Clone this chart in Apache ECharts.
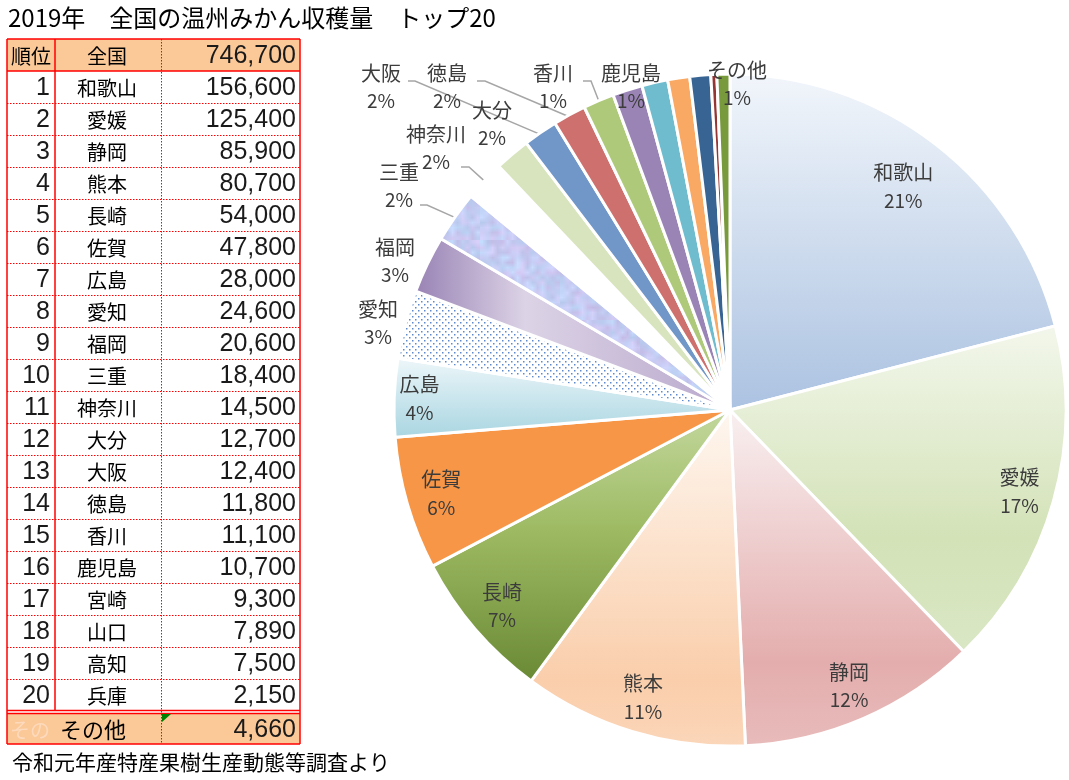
<!DOCTYPE html>
<html>
<head>
<meta charset="utf-8">
<script src="https://cdn.jsdelivr.net/npm/echarts@6/dist/echarts.min.js"></script>
<style>
html,body{margin:0;padding:0;background:#fff;}
#chart{width:1069px;height:780px;}
</style>
</head>
<body>
<div id="chart"></div>
<script>
// ---------------- data ----------------
const titleText = '2019年　全国の温州みかん収穫量　トップ20';
const sourceText = '令和元年産特産果樹生産動態等調査より';
const rankHeader = '順位';
const nationalName = '全国';
const nationalTotal = 746700;
const ranks = [1, 2, 3, 4, 5, 6, 7, 8, 9, 10, 11, 12, 13, 14, 15, 16, 17, 18, 19, 20];
const prefectures = ['和歌山', '愛媛', '静岡', '熊本', '長崎', '佐賀', '広島', '愛知', '福岡', '三重',
  '神奈川', '大分', '大阪', '徳島', '香川', '鹿児島', '宮崎', '山口', '高知', '兵庫'];
const harvest = [156600, 125400, 85900, 80700, 54000, 47800, 28000, 24600, 20600, 18400,
  14500, 12700, 12400, 11800, 11100, 10700, 9300, 7890, 7500, 2150];
const otherName = 'その他';
const otherHarvest = 4660;

const pieNames = prefectures.concat([otherName]);
const pieValues = harvest.concat([otherHarvest]);
const pieTotal = pieValues.reduce((a, b) => a + b, 0);

// ---------------- styles / layout ----------------
const CX = 730, CY = 410, R = 336;
const CJK = '"Noto Sans CJK JP", "Noto Sans", sans-serif';
const NUM = '"Liberation Sans", Arial, sans-serif';

function lin(x2, y2, stops) {
  return { type: 'linear', x: 0, y: 0, x2: x2, y2: y2,
    colorStops: stops.map(s => ({ offset: s[0], color: s[1] })) };
}
function dotPattern() {
  const c = document.createElement('canvas');
  c.width = 6; c.height = 6;
  const g = c.getContext('2d');
  g.fillStyle = '#ffffff'; g.fillRect(0, 0, 6, 6);
  g.fillStyle = '#5E8ACB';
  g.fillRect(1, 1, 1.5, 1.5);
  g.fillRect(4, 4, 1.5, 1.5);
  return { image: c, repeat: 'repeat' };
}
function hash(x, y) {
  const s = Math.sin(x * 127.1 + y * 311.7) * 43758.5453;
  return s - Math.floor(s);
}
function texturePattern() {
  const n = 16, big = 80;
  const small = document.createElement('canvas');
  small.width = n; small.height = n;
  const g = small.getContext('2d');
  const A = [190, 214, 248], B = [206, 196, 240];
  for (let y = 0; y < n; y++) for (let x = 0; x < n; x++) {
    const t = hash(x, y), b = hash(x + 37, y + 91) * 22 - 11;
    const c = A.map((v, k) => Math.max(0, Math.min(255, Math.round(v + (B[k] - v) * t + b))));
    g.fillStyle = 'rgb(' + c.join(',') + ')';
    g.fillRect(x, y, 1, 1);
  }
  const c2 = document.createElement('canvas');
  c2.width = big; c2.height = big;
  const g2 = c2.getContext('2d');
  g2.imageSmoothingEnabled = true;
  g2.drawImage(small, 0, 0, big, big);
  return { image: c2, repeat: 'repeat' };
}

const sliceFill = {
  '和歌山': lin(0, 1, [[0, '#F2F6FB'], [1, '#ABC2E1']]),
  '愛媛': lin(0, 1, [[0, '#F3F7EC'], [0.65, '#D3E2B7'], [1, '#DAE7C5']]),
  '静岡': lin(0, 1, [[0, '#F9F0F1'], [0.75, '#E4ADAD'], [1, '#E8BBBB']]),
  '熊本': lin(0, 1, [[0, '#FEF7F0'], [0.8, '#FACEAB'], [1, '#FBD6B9']]),
  '長崎': lin(0, 1, [[0, '#C3D89E'], [0.45, '#9DBA62'], [1, '#6A8935']]),
  '佐賀': '#F79646',
  '広島': lin(0, 1, [[0, '#EEF7FA'], [1, '#A8D5E1']]),
  '愛知': dotPattern(),
  '福岡': lin(1, 0, [[0, '#9882B4'], [0.35, '#DCD3E6'], [1, '#B8A8CC']]),
  '三重': texturePattern(),
  '神奈川': '#FFFFFF',
  '大分': '#D7E4BD',
  '大阪': '#7196C8',
  '徳島': '#CD706E',
  '香川': '#AFC97B',
  '鹿児島': '#9A84B6',
  '宮崎': '#6FBCCF',
  '山口': '#F9A964',
  '高知': '#386493',
  '兵庫': '#963634',
  'その他': '#789A3C'
};
const hiddenLabels = ['宮崎', '山口', '高知', '兵庫'];
const outsideLabelAt = {
  '愛知': [378, 323], '福岡': [395, 261], '三重': [399, 186], '神奈川': [436, 148],
  '大分': [492, 124], '大阪': [381, 87], '徳島': [447, 87], '香川': [553, 87],
  '鹿児島': [631, 87], 'その他': [737, 84]
};
const leaderBends = {
  '三重': [[427, 205], [420, 205]],
  '神奈川': [[469, 167], [461, 167]],
  '大阪': [[415, 81], [408, 81]],
  '徳島': [[485, 81], [477, 81]],
  '香川': [[591, 81], [583, 81]]
};
const insideRadius = { '和歌山': 0.842, '広島': 0.925 };

const midAngles = [];
(function () {
  let cum = 0;
  pieValues.forEach(v => { midAngles.push((cum + v / 2) / pieTotal * 360); cum += v; });
})();
function polar(deg, r) {
  const a = deg * Math.PI / 180;
  return [CX + r * Math.sin(a), CY - r * Math.cos(a)];
}

// ---------------- table graphics ----------------
const X0 = 7, X1 = 55, X2 = 161, X3 = 300;
const Y0 = 39, HB = 71, RH = 32;
const rowsEnd = HB + RH * ranks.length; // 711
const OY0 = rowsEnd + 3, OY1 = OY0 + 30;
const RED = '#FF0000', BG = '#FBC898';

const graphics = [];
function line(x1, y1, x2, y2, dashed, w) {
  graphics.push({ type: 'line', silent: true,
    shape: { x1: x1, y1: y1, x2: x2, y2: y2 },
    style: { stroke: RED, lineWidth: w || (dashed ? 1 : 1.5), lineDash: dashed ? [1.5, 1.5] : null } });
}
function text(t, x, y, font, align, fill) {
  graphics.push({ type: 'text', silent: true,
    style: { text: t, x: x, y: y, font: font, fill: fill || '#000',
      align: align, textAlign: align, verticalAlign: 'middle', textVerticalAlign: 'middle' } });
}
graphics.push({ type: 'rect', silent: true, shape: { x: X0, y: Y0, width: X3 - X0, height: HB - Y0 }, style: { fill: BG } });
graphics.push({ type: 'rect', silent: true, shape: { x: X0, y: OY0, width: X3 - X0, height: OY1 - OY0 }, style: { fill: BG } });
for (let i = 1; i < ranks.length; i++) line(X0, HB + RH * i + 0.5, X3, HB + RH * i + 0.5, true);
line(X2 + 0.5, Y0, X2 + 0.5, OY1, true);
line(X1, Y0, X1, rowsEnd, false);
line(X0, Y0, X0, OY1, false);
line(X3, Y0, X3, OY1, false);
line(X0, Y0, X3, Y0, false);
line(X0, HB, X3, HB, false);
line(X0, rowsEnd - 0.5, X3, rowsEnd - 0.5, false);
line(X0, OY0 - 0.5, X3, OY0 - 0.5, false);
line(X0, OY1, X3, OY1, false);

const fmt = v => v.toLocaleString('en-US');
const nameCX = 107, rankRX = 50, valRX = 296;
const numFont = '25px ' + NUM, numColor = '#1a1a1a';
text(rankHeader, 31, (Y0 + HB) / 2 + 1, '20px ' + CJK, 'center');
text(nationalName, nameCX, (Y0 + HB) / 2 + 1, '20px ' + CJK, 'center');
text(fmt(nationalTotal), valRX, (Y0 + HB) / 2 + 1, numFont, 'right', numColor);
ranks.forEach((r, i) => {
  const cy = HB + RH * i + RH / 2 + 1;
  text(String(r), rankRX, cy, numFont, 'right', numColor);
  text(prefectures[i], nameCX, cy, '20px ' + CJK, 'center');
  text(fmt(harvest[i]), valRX, cy, numFont, 'right', numColor);
});
const ocy = (OY0 + OY1) / 2 + 1;
text(otherName.slice(0, 2), 10, ocy, '20px ' + CJK, 'left', '#FDDABD');
text(otherName, 93, ocy, '22px ' + CJK, 'center');
text(fmt(otherHarvest), valRX, ocy, numFont, 'right', numColor);
graphics.push({ type: 'polygon', silent: true,
  shape: { points: [[X2 + 1, OY0], [X2 + 10, OY0], [X2 + 1, OY0 + 8]] }, style: { fill: '#008000' } });

text(titleText, 8, 18, '24px ' + CJK, 'left');
text(sourceText, 12, 762, '21px ' + CJK, 'left');

// ---------------- chart ----------------
const chart = echarts.init(document.getElementById('chart'), null, { renderer: 'canvas' });
chart.setOption({
  backgroundColor: '#ffffff',
  animation: false,
  graphic: { elements: graphics },
  series: [{
    type: 'pie',
    center: [CX, CY],
    radius: R,
    startAngle: 90,
    clockwise: true,
    avoidLabelOverlap: false,
    silent: true,
    emphasis: { disabled: true },
    itemStyle: { borderColor: '#ffffff', borderWidth: 3 },
    label: {
      show: true,
      color: '#3C3C3C',
      fontFamily: CJK,
      fontSize: 20,
      lineHeight: 28,
      formatter: p => '{n|' + p.name + '}\n{p|' + Math.round(p.value / pieTotal * 100) + '%}',
      rich: {
        n: { fontFamily: CJK, fontSize: 20, lineHeight: 28, color: '#3C3C3C' },
        p: { fontFamily: CJK, fontSize: 19, lineHeight: 28, color: '#3C3C3C' }
      }
    },
    labelLine: { show: false, length: 10, length2: 10, lineStyle: { color: '#A6A6A6', width: 1.5 } },
    labelLayout: function (params) {
      const i = params.dataIndex;
      const name = pieNames[i];
      if (outsideLabelAt[name]) {
        const p = outsideLabelAt[name];
        const res = { x: p[0], y: p[1], align: 'center', verticalAlign: 'middle' };
        if (leaderBends[name]) {
          res.labelLinePoints = [polar(midAngles[i], R - 3), leaderBends[name][0], leaderBends[name][1]];
        }
        return res;
      }
      const q = polar(midAngles[i], R * (insideRadius[name] || 0.895));
      return { x: q[0], y: q[1], align: 'center', verticalAlign: 'middle' };
    },
    data: pieNames.map((n, i) => ({
      name: n,
      value: pieValues[i],
      itemStyle: { color: sliceFill[n] },
      label: { show: hiddenLabels.indexOf(n) < 0, position: outsideLabelAt[n] ? 'outside' : 'inside' },
      labelLine: { show: !!leaderBends[n] }
    }))
  }]
});
</script>
</body>
</html>
